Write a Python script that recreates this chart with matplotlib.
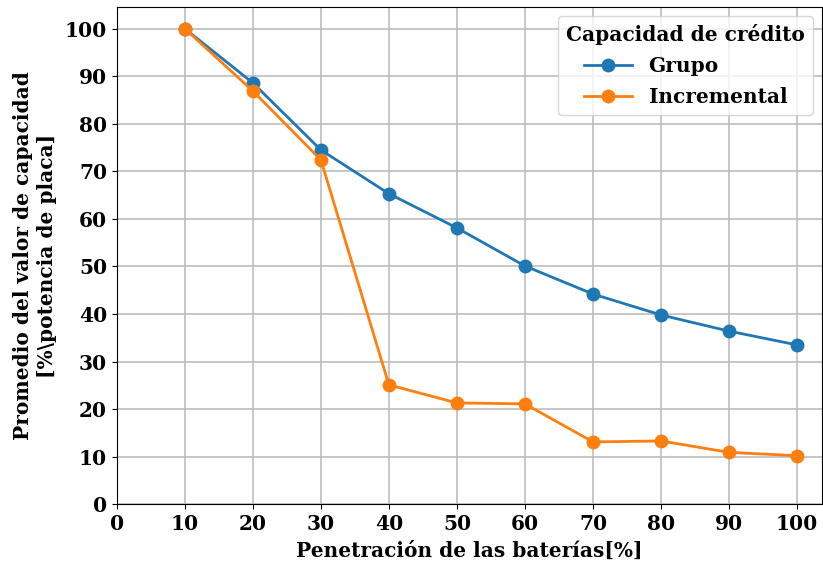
import numpy as np
import matplotlib
matplotlib.use('Agg')
import matplotlib.pyplot as plt

# datos
penetracion = [10, 20, 30, 40, 50, 60, 70, 80, 90, 100]
grupo = [100, 88.6, 74.5, 65.3, 58.1, 50.1, 44.2, 39.8, 36.4, 33.5]
incremental = [100, 86.9, 72.4, 25.1, 21.3, 21.1, 13.1, 13.3, 10.9, 10.2]
xticks = np.arange(0, 101, 10)
yticks = np.arange(0, 101, 10)

plt.rcParams['font.family'] = ['DejaVu Serif']
plt.rcParams['font.weight'] = 'bold'
plt.rcParams['axes.labelweight'] = 'bold'
fs = 14.5

fig, ax = plt.subplots(figsize=(8.23, 5.71), dpi=100)
ax.plot(penetracion, grupo, marker='o', color='#1f77b4', lw=2, ms=9, label='Grupo')
ax.plot(penetracion, incremental, marker='o', color='#ff7f0e', lw=2, ms=9, label='Incremental')

ax.set_xlim(0, 103.7)
ax.set_ylim(0, 104.6)
ax.set_xticks(xticks)
ax.set_yticks(yticks)
ax.tick_params(labelsize=fs)
ax.grid(True, color='#bdbdbd', lw=1.2)
ax.set_axisbelow(True)

ax.set_xlabel('Penetración de las baterías[%]', fontsize=fs, labelpad=5)
ax.set_ylabel('Promedio del valor de capacidad\n[%\\potencia de placa]', fontsize=fs, labelpad=6)

leg = ax.legend(title='Capacidad de crédito', fontsize=fs, title_fontsize=fs, loc='upper right',
                borderaxespad=0.45, labelspacing=0.55, handlelength=2.4)

fig.subplots_adjust(left=0.142, right=0.999, top=0.988, bottom=0.117)
fig.savefig('out.png')
